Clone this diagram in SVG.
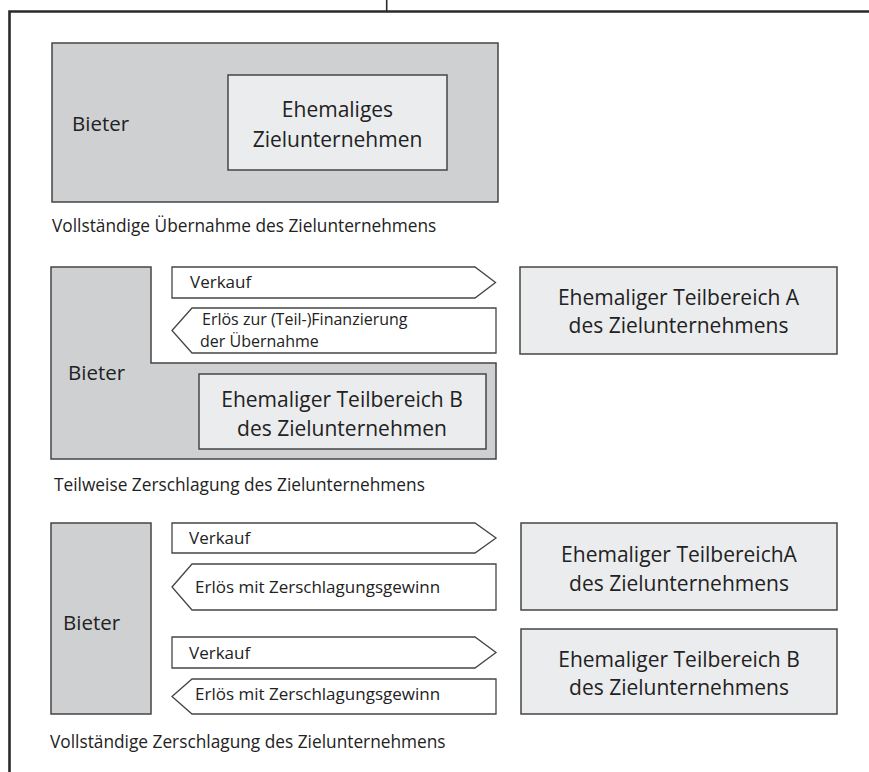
<svg xmlns="http://www.w3.org/2000/svg" width="869" height="772" viewBox="0 0 869 772">
<style>
.dark{fill:#cfd0d2;stroke:#454545;stroke-width:1.5}
.light{fill:#ebecee;stroke:#454545;stroke-width:1.5}
.arrow{fill:#ffffff;stroke:#454545;stroke-width:1.3}
text{font-family:"Open Sans","Liberation Sans",sans-serif;fill:#222}
.big{font-size:21px}
.mid{font-size:20.5px}
.cap{font-size:17.3px}
.lab{font-size:17px}
.sm{font-size:16px}
.c{text-anchor:middle}
</style>
<rect width="869" height="772" fill="#ffffff"/>
<g id="frame" fill="none" stroke="#2a2a2a">
<path d="M9.5,772 V11.5 H869" stroke-width="2.6"/>
<path d="M386.7,0 V11.5" stroke-width="1.6"/>
</g>
<g id="s1">
<g id="s1-bieter">
<rect class="dark" x="52" y="43" width="446" height="159"/>
<text class="mid" x="72" y="131">Bieter</text>
</g>
<g id="s1-ziel">
<rect class="light" x="228" y="75" width="219" height="95"/>
<text class="big c" x="337.5" y="117">Ehemaliges</text>
<text class="big c" x="337.5" y="147">Zielunternehmen</text>
</g>
<text id="s1-caption" class="cap" x="52" y="232">Vollständige Übernahme des Zielunternehmens</text>
</g>
<g id="s2">
<g id="s2-bieter">
<path class="dark" d="M51,267 H151 V363 H496 V459 H51 Z"/>
<text class="mid" x="68" y="380">Bieter</text>
</g>
<g id="s2-teilB">
<rect class="light" x="199" y="374" width="287" height="75"/>
<text class="big c" x="342" y="407">Ehemaliger Teilbereich B</text>
<text class="big c" x="342" y="436">des Zielunternehmen</text>
</g>
<g id="s2-teilA">
<rect class="light" x="520" y="267" width="317" height="87"/>
<text class="big c" x="678.5" y="305">Ehemaliger Teilbereich A</text>
<text class="big c" x="678.5" y="333">des Zielunternehmens</text>
</g>
<g id="s2-verkauf">
<polygon class="arrow" points="172,267 475,267 495.5,282.5 475,298 172,298"/>
<text class="lab" x="190" y="288">Verkauf</text>
</g>
<g id="s2-erloes">
<polygon class="arrow" points="172,330.5 192,308 496,308 496,353 192,353"/>
<text class="sm" x="202" y="324.5">Erlös zur (Teil-)Finanzierung</text>
<text class="sm" x="200" y="346.5">der Übernahme</text>
</g>
<text id="s2-caption" class="cap" x="54" y="491">Teilweise Zerschlagung des Zielunternehmens</text>
</g>
<g id="s3">
<g id="s3-bieter">
<rect class="dark" x="51" y="523" width="100" height="191"/>
<text class="mid" x="63" y="630">Bieter</text>
</g>
<g id="s3-teilA">
<rect class="light" x="521" y="523" width="316" height="87"/>
<text class="big c" x="679" y="562">Ehemaliger TeilbereichA</text>
<text class="big c" x="679" y="591">des Zielunternehmens</text>
</g>
<g id="s3-teilB">
<rect class="light" x="521" y="629" width="316" height="85"/>
<text class="big c" x="679" y="667">Ehemaliger Teilbereich B</text>
<text class="big c" x="679" y="695">des Zielunternehmens</text>
</g>
<g id="s3-verkauf1">
<polygon class="arrow" points="172,523 475,523 496,538 475,553 172,553"/>
<text class="lab" x="189" y="544">Verkauf</text>
</g>
<g id="s3-erloes1">
<polygon class="arrow" points="172,587 192,564 496,564 496,610 192,610"/>
<text class="lab" x="195" y="593">Erlös mit Zerschlagungsgewinn</text>
</g>
<g id="s3-verkauf2">
<polygon class="arrow" points="172,637 475,637 496,652.5 475,668 172,668"/>
<text class="lab" x="189" y="659">Verkauf</text>
</g>
<g id="s3-erloes2">
<polygon class="arrow" points="172,696.5 192,679 496,679 496,714 192,714"/>
<text class="lab" x="195" y="700">Erlös mit Zerschlagungsgewinn</text>
</g>
<text id="s3-caption" class="cap" x="50" y="748">Vollständige Zerschlagung des Zielunternehmens</text>
</g>
</svg>
